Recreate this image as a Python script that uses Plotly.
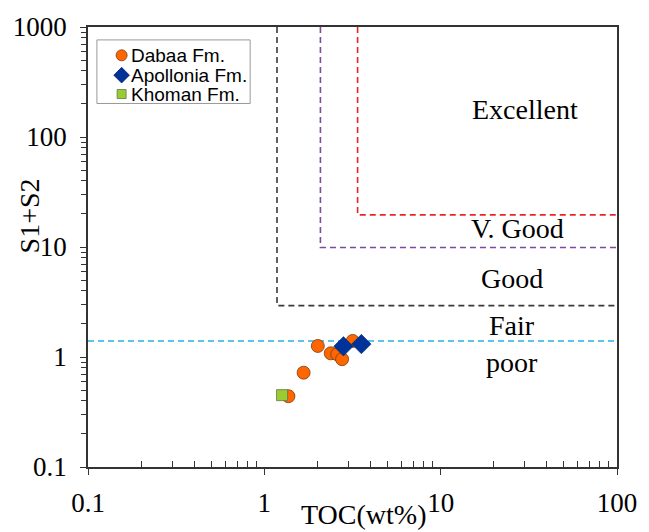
import plotly.graph_objects as go

# ---- data ----
dabaa_toc = [2.01, 2.38, 2.59, 2.76, 3.17, 1.67, 1.37]
dabaa_s1s2 = [1.26, 1.08, 1.06, 0.955, 1.40, 0.72, 0.44]
apollonia_toc = [2.81, 3.55]
apollonia_s1s2 = [1.25, 1.31]
khoman_toc = [1.26]
khoman_s1s2 = [0.45]

# classification boundaries (TOC threshold, S1+S2 threshold)
good_toc, good_s = 1.18, 2.93
vgood_toc, vgood_s = 2.08, 9.9
exc_toc, exc_s = 3.38, 19.6
fair_s = 1.40

region_labels = ["Excellent", "V. Good", "Good", "Fair", "poor"]
legend_names = ["Dabaa Fm.", "Apollonia Fm.", "Khoman Fm."]

SERIF = "Liberation Serif, Times New Roman, serif"
SANS = "Liberation Sans, Arial, sans-serif"

ORANGE = dict(symbol="circle", color="#ff6600", line=dict(color="#7a3a10", width=0.8))
BLUE = dict(symbol="diamond", color="#003399", line=dict(color="#002266", width=0.5))
GREEN = dict(symbol="square", color="#99cc33", line=dict(color="#667744", width=0.8))

# plot area in pixels
L, R, T, B = 88, 623, 24, 467
W, H = R - L, B - T

def px(x):
    return (x - L) / W

def py(y):
    return (B - y) / H

fig = go.Figure()

def bound(x, y, color):
    fig.add_trace(go.Scatter(x=x, y=y, mode="lines", showlegend=False, hoverinfo="skip",
                             line=dict(color=color, width=1.6, dash="6px,4px")))

bound([good_toc, good_toc, 100], [1000, good_s, good_s], "#3a3a3a")
bound([vgood_toc, vgood_toc, 100], [1000, vgood_s, vgood_s], "#7d4a9e")
bound([exc_toc, exc_toc, 100], [1000, exc_s, exc_s], "#e8262a")
bound([0.1, 100], [fair_s, fair_s], "#2ab0e4")

fig.add_trace(go.Scatter(x=dabaa_toc, y=dabaa_s1s2, mode="markers", name=legend_names[0],
                         showlegend=False, marker=dict(size=13, opacity=1, **ORANGE)))
fig.add_trace(go.Scatter(x=apollonia_toc, y=apollonia_s1s2, mode="markers", name=legend_names[1],
                         showlegend=False, marker=dict(size=15, opacity=1, **BLUE)))
fig.add_trace(go.Scatter(x=khoman_toc, y=khoman_s1s2, mode="markers", name=legend_names[2],
                         showlegend=False, marker=dict(size=11, opacity=1, **GREEN)))

# ---- hand-made legend (box, symbols on an overlay pixel axis, labels) ----
fig.add_shape(type="rect", xref="paper", yref="paper", x0=px(97), x1=px(252), y0=py(101), y1=py(37),
              line=dict(color="#999999", width=1), fillcolor="white", layer="below")
rows_y = [52.5, 72.5, 91.5]
fig.add_trace(go.Scatter(x=[122, 122, 122], y=rows_y, mode="markers", xaxis="x2", yaxis="y2",
                         showlegend=False, hoverinfo="skip",
                         marker=dict(size=[11, 12, 9], symbol=["circle", "diamond", "square"],
                                     opacity=1,
                                     color=["#ff6600", "#003399", "#99cc33"],
                                     line=dict(color=["#7a3a10", "#002266", "#667744"], width=0.8))))
for name, yy in zip(legend_names, rows_y):
    fig.add_annotation(x=px(129), y=py(yy), xref="paper", yref="paper", text=name, showarrow=False,
                       xanchor="left", yanchor="middle",
                       font=dict(family=SANS, size=19, color="black"))

lab_pos = [(0.826, 0.812), (0.811, 0.541), (0.802, 0.428), (0.802, 0.322), (0.802, 0.238)]
for t, (qx, qy) in zip(region_labels, lab_pos):
    fig.add_annotation(x=qx, y=qy, xref="paper", yref="paper", text=t, showarrow=False,
                       xanchor="center", yanchor="middle",
                       font=dict(family=SERIF, size=28, color="black"))

fig.add_annotation(x=px(29), y=py(214), xref="paper", yref="paper", text="S1+S2", showarrow=False,
                   textangle=-90, xanchor="center", yanchor="middle",
                   font=dict(family=SERIF, size=28, color="black"))
fig.add_annotation(x=px(367), y=py(515), xref="paper", yref="paper", text="TOC(wt%)", showarrow=False,
                   xanchor="center", yanchor="middle",
                   font=dict(family=SERIF, size=28, color="black"))

axis_common = dict(type="log", showgrid=False, zeroline=False, showline=True, linecolor="#333",
                   linewidth=1.5, mirror=True, tickfont=dict(family=SERIF, size=27, color="black"),
                   tickcolor="#333", tickwidth=1.2)

fig.update_layout(
    xaxis=dict(**axis_common, range=[-1, 2], tickvals=[0.1, 1, 10, 100],
               ticktext=["0.1", "1", "10", "100"], ticks="outside", ticklen=6,
               ticklabelstandoff=5,
               minor=dict(ticks="inside", ticklen=6, tickcolor="#333", tickwidth=1.2,
                          tickvals=[0.2, 0.3, 0.4, 0.5, 0.6, 0.7, 0.8, 0.9,
                                    2, 3, 4, 5, 6, 7, 8, 9, 20, 30, 40, 50, 60, 70, 80, 90])),
    yaxis=dict(**axis_common, range=[-1, 3], tickvals=[0.1, 1, 10, 100, 1000],
               ticktext=["0.1", "1", "10", "100", "1000"], ticks="outside", ticklen=6,
               ticklabelstandoff=8,
               minor=dict(ticks="outside", ticklen=5, tickcolor="#333", tickwidth=1.2,
                          tickvals=[0.2, 0.3, 0.4, 0.5, 0.6, 0.7, 0.8, 0.9,
                                    2, 3, 4, 5, 6, 7, 8, 9, 20, 30, 40, 50, 60, 70, 80, 90,
                                    200, 300, 400, 500, 600, 700, 800, 900])),
    xaxis2=dict(overlaying="x", range=[L, R], visible=False, fixedrange=True),
    yaxis2=dict(overlaying="y", range=[B, T], visible=False, fixedrange=True),
    width=649, height=532, autosize=False,
    margin=dict(l=L, r=649 - R, t=T, b=532 - B),
    paper_bgcolor="white", plot_bgcolor="white",
    showlegend=False,
)

fig.write_html("out.html")
